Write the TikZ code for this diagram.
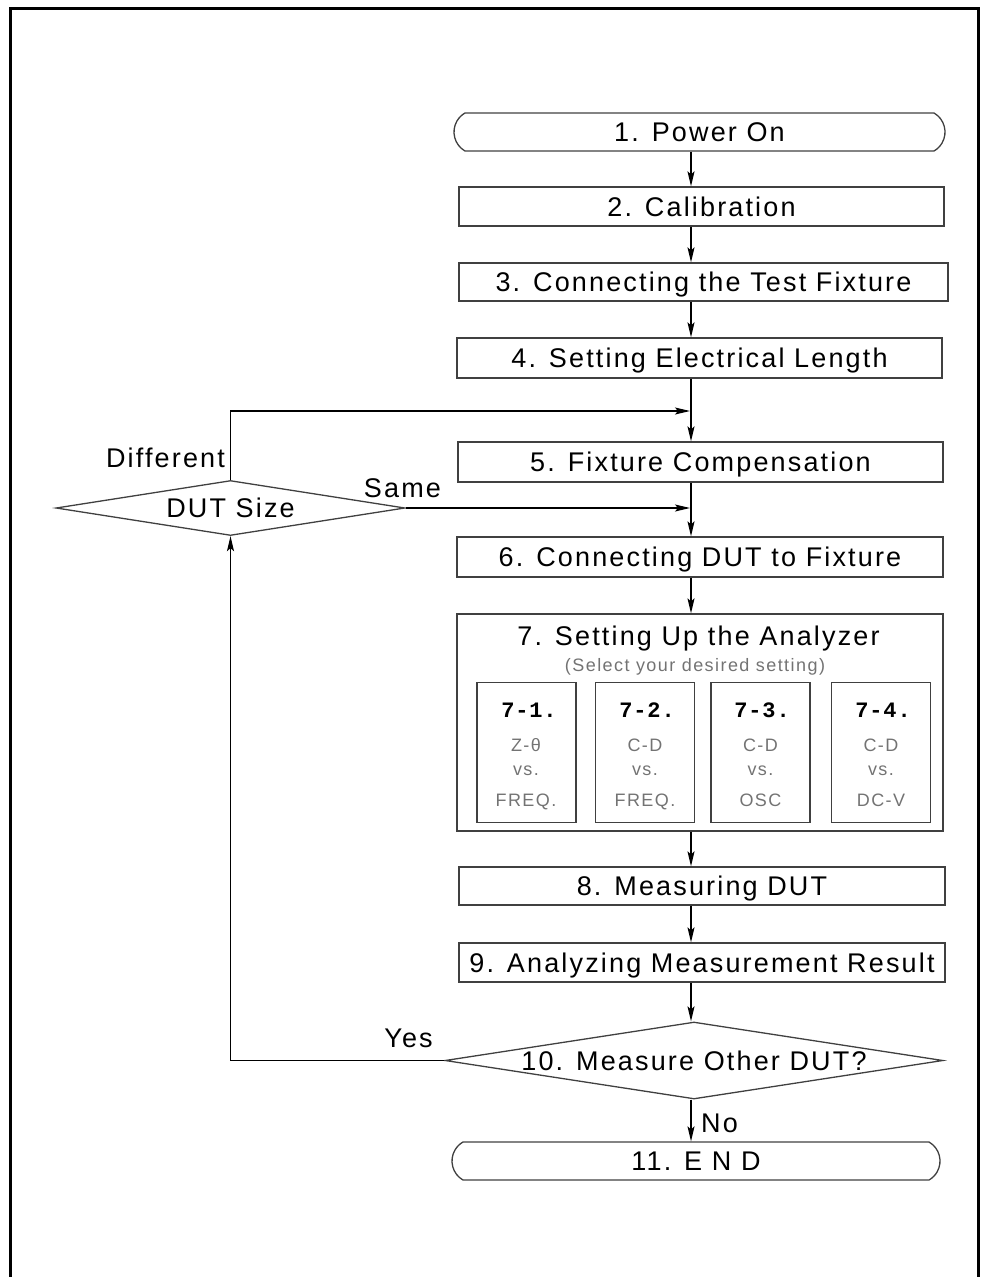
\documentclass[tikz,border=0pt]{standalone}
\usepackage{fontspec}
\setmainfont{Liberation Sans}[LetterSpace=8]
\newfontfamily\keyfont{Liberation Mono}[LetterSpace=4]
\usetikzlibrary{arrows.meta,shapes.geometric,shapes.misc}

\begin{document}
\begin{tikzpicture}[x=1pt,y=-1pt,line width=1.3pt,
	box/.style={draw=black!75,rectangle,minimum height=39pt,inner sep=0pt,font=\fontsize{27pt}{30pt}\selectfont,text height=19.5pt,text depth=0pt},
	stadium/.style={box,rounded rectangle,rounded rectangle arc length=120},
	choice/.style={draw=black!75,diamond,inner sep=0pt,font=\fontsize{27pt}{30pt}\selectfont,text height=19.5pt,text depth=0pt},
	sub/.style={draw=black!75,rectangle,minimum width=99pt,minimum height=140pt},
	lbl/.style={anchor=base,font=\fontsize{27pt}{30pt}\selectfont},
	key/.style={anchor=base,font=\fontsize{22pt}{24pt}\selectfont\keyfont\bfseries},
	note/.style={anchor=base,text=black!55,font=\fontsize{18pt}{20pt}\selectfont},
	arr/.style={-{Stealth[length=15pt,width=7pt,inset=3pt]}}]
				\useasboundingbox (0,0) rectangle (980,1277);
				\draw[line width=3pt] (10.5,1277) -- (10.5,8.5) -- (978.5,8.5) -- (978.5,1277);
				\node[stadium,minimum width=491pt,minimum height=38pt] (pwr) at (699.5,132) {1. Power On};
				\node[box,minimum width=485pt] (cal) at (701.5,206.5) {2. Calibration};
				\node[box,minimum width=489pt,minimum height=38pt] (fix) at (703.5,282) {3. Connecting the Test Fixture};
				\node[box,minimum width=485pt,minimum height=40pt] (elen) at (699.5,358) {4. Setting Electrical Length};
				\node[box,minimum width=485pt,minimum height=40pt] (comp) at (700.5,462) {5. Fixture Compensation};
				\node[choice,aspect=6.35,minimum width=349pt,minimum height=55pt] (size) at (230.5,508) {DUT Size};
				\node[box,minimum width=486pt,minimum height=40pt] (dut) at (700,557) {6. Connecting DUT to Fixture};
				\node[box,minimum width=486pt,minimum height=217pt] (setup) at (700,722.5) {};
				\node[lbl] (title) at (698.5,645) {7. Setting Up the Analyzer};
				\node[note] (hint) at (695,671) {(Select your desired setting)};
				\node[sub] (s1) at (526.5,752.5) {};
				\node[sub] (s2) at (645,752.5) {};
				\node[sub] (s3) at (760.5,752.5) {};
				\node[sub] (s4) at (881,752.5) {};
				\node[key] (k1) at (529,717) {7-1.};
				\node[note] at (526,751) {Z-θ};
				\node[note] at (526,775) {vs.};
				\node[note] at (526,806) {FREQ.};
				\node[key] (k2) at (647,717) {7-2.};
				\node[note] at (645,751) {C-D};
				\node[note] at (645,775) {vs.};
				\node[note] at (645,806) {FREQ.};
				\node[key] (k3) at (762,717) {7-3.};
				\node[note] at (760.5,751) {C-D};
				\node[note] at (760.5,775) {vs.};
				\node[note] at (760.5,806) {OSC};
				\node[key] (k4) at (883,717) {7-4.};
				\node[note] at (881,751) {C-D};
				\node[note] at (881,775) {vs.};
				\node[note] at (881,806) {DC-V};
				\node[box,minimum width=486pt,minimum height=38pt] (meas) at (702,886) {8. Measuring DUT};
				\node[box,minimum width=486pt] (anlz) at (702,962.5) {9. Analyzing Measurement Result};
				\node[choice,aspect=6.47,minimum width=498pt,minimum height=77pt] (other) at (694,1060.5) {10. Measure Other DUT?};
				\node[stadium,minimum width=488pt,minimum height=38pt] (fin) at (696,1161) {11. E N D};
				\node[lbl] (ldiff) at (165.5,467) {Different};
				\node[lbl] (lsame) at (402.5,497) {Same};
				\node[lbl] (lyes) at (408.5,1047) {Yes};
				\node[lbl] (lno) at (719.5,1132) {No};
				\coordinate (trunk) at (691,0);
				\coordinate (j1) at (690,411);
				\coordinate (j2) at (690,508);
				\draw[arr] (pwr.south -| trunk) -- (cal.north -| trunk);
				\draw[arr] (cal.south -| trunk) -- (fix.north -| trunk);
				\draw[arr] (fix.south -| trunk) -- (elen.north -| trunk);
				\draw[arr] (elen.south -| trunk) -- (comp.north -| trunk);
				\draw[arr] (comp.south -| trunk) -- (dut.north -| trunk);
				\draw[arr] (dut.south -| trunk) -- (setup.north -| trunk);
				\draw[arr] (setup.south -| trunk) -- (meas.north -| trunk);
				\draw[arr] (meas.south -| trunk) -- (anlz.north -| trunk);
				\draw[arr] (anlz.south -| trunk) -- (other.north -| trunk);
				\draw[arr] (other.south -| trunk) -- (fin.north -| trunk);
				\draw[arr] (size.north) |- (j1);
				\draw[arr] (size.east) -- (j2);
				\draw[arr] (other.west) -| (size.south);
			\end{tikzpicture}
\end{document}
